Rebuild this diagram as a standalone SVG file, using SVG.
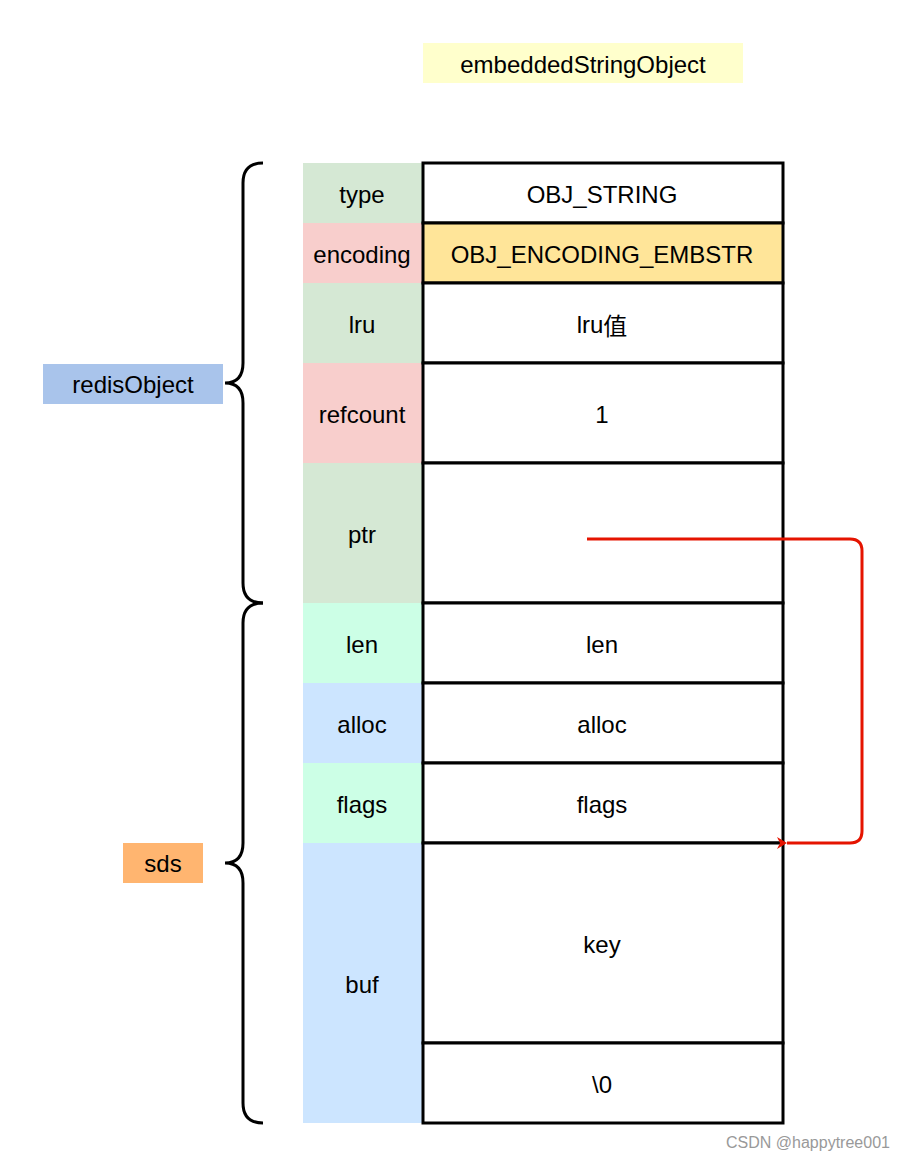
<svg xmlns="http://www.w3.org/2000/svg" width="920" height="1164" viewBox="0 0 920 1164">
<style>
text{font-family:"Liberation Sans",Arial,sans-serif;font-size:24px;fill:#000;text-anchor:middle;dominant-baseline:central}
.cell{stroke:#000;stroke-width:3;fill:#fff}
.brace{fill:none;stroke:#000;stroke-width:3}
</style>
<defs><marker id="ah" markerWidth="12" markerHeight="12" refX="2" refY="6" orient="auto" markerUnits="userSpaceOnUse"><path d="M12,0 L2,6 L12,12 L9,6 Z" fill="#e51400"/></marker></defs>
<rect width="920" height="1164" fill="#fff"/>
<g id="title"><rect x="423" y="43" width="320" height="40" fill="#ffffcc"/><text x="583" y="64">embeddedStringObject</text></g>
<g id="redisObject"><rect x="43" y="364" width="180" height="40" fill="#a9c4eb"/><text x="133" y="384">redisObject</text></g>
<g id="sds"><rect x="123" y="843" width="80" height="40" fill="#ffb570"/><text x="163" y="863">sds</text></g>
<g id="braces">
<path class="brace" d="M263,163 Q243,163 243,183 L243,363 Q243,383 225,383 Q243,383 243,403 L243,583 Q243,603 263,603"/>
<path class="brace" d="M263,603 Q243,603 243,623 L243,843 Q243,863 225,863 Q243,863 243,883 L243,1103 Q243,1123 263,1123"/>
</g>
<g id="labels">
<rect x="303" y="163" width="120" height="60" fill="#d5e8d4"/><text x="362" y="194">type</text>
<rect x="303" y="223" width="120" height="60" fill="#f8cecc"/><text x="362" y="254">encoding</text>
<rect x="303" y="283" width="120" height="80" fill="#d5e8d4"/><text x="362" y="324">lru</text>
<rect x="303" y="363" width="120" height="100" fill="#f8cecc"/><text x="362" y="414">refcount</text>
<rect x="303" y="463" width="120" height="140" fill="#d5e8d4"/><text x="362" y="534">ptr</text>
<rect x="303" y="603" width="120" height="80" fill="#ccffe6"/><text x="362" y="644">len</text>
<rect x="303" y="683" width="120" height="80" fill="#cce5ff"/><text x="362" y="724">alloc</text>
<rect x="303" y="763" width="120" height="80" fill="#ccffe6"/><text x="362" y="804">flags</text>
<rect x="303" y="843" width="120" height="280" fill="#cce5ff"/><text x="362" y="984">buf</text>
</g>
<g id="values">
<rect class="cell" x="423" y="163" width="360" height="60"/><text x="602" y="194">OBJ_STRING</text>
<rect class="cell" x="423" y="223" width="360" height="60" style="fill:#ffe599"/><text x="602" y="254">OBJ_ENCODING_EMBSTR</text>
<rect class="cell" x="423" y="283" width="360" height="80"/><text x="602" y="324">lru<tspan style="font-family:'Noto Sans CJK SC',sans-serif">值</tspan></text>
<rect class="cell" x="423" y="363" width="360" height="100"/><text x="602" y="414">1</text>
<rect class="cell" x="423" y="463" width="360" height="140"/>
<rect class="cell" x="423" y="603" width="360" height="80"/><text x="602" y="644">len</text>
<rect class="cell" x="423" y="683" width="360" height="80"/><text x="602" y="724">alloc</text>
<rect class="cell" x="423" y="763" width="360" height="80"/><text x="602" y="804">flags</text>
<rect class="cell" x="423" y="843" width="360" height="200"/><text x="602" y="944">key</text>
<rect class="cell" x="423" y="1043" width="360" height="80"/><text x="602" y="1084">\0</text>
</g>
<g id="connectors">
<path d="M587,539 L850,539 Q862,539 862,551 L862,831 Q862,843 850,843 L787,843" fill="none" stroke="#e51400" stroke-width="3" marker-end="url(#ah)"/>
</g>
<text x="808" y="1142" style="font-size:16px;fill:#999">CSDN @happytree001</text>
</svg>
